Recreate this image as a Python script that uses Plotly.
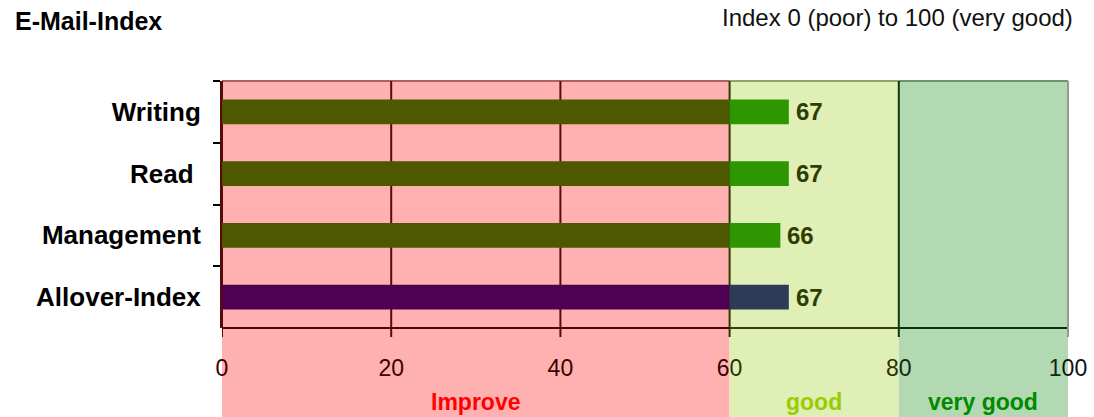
import plotly.graph_objects as go

# Index scores per area
categories = ["Writing", "Read\u00a0", "Management", "Allover-Index"]
scores = [67, 67, 66, 67]

# Rating zones on the 0-100 scale
zone_names = ["Improve", "good", "very good"]
zone_starts = [0, 60, 80]
zone_ends = [60, 80, 100]
zone_fill = ["#FFB0B0", "#E0EFB5", "#B2D9B2"]
zone_text = ["#FF0000", "#99CC00", "#008A00"]
zone_edge = ["#A86464", "#94A468", "#6A946A"]

tick_vals = [0, 20, 40, 60, 80, 100]
tick_text = [
    '<span style="color:#3d0000">0</span>',
    '<span style="color:#3d0000">20</span>',
    '<span style="color:#3d0000">40</span>',
    '<span style="color:#3d0000">6</span><span style="color:#2a3300">0</span>',
    '<span style="color:#2a3300">8</span><span style="color:#0f2a0f">0</span>',
    '<span style="color:#0f2a0f">1</span><span style="color:#111">00</span>',
]
grid_colors = ["#5A0A0A", "#5A0A0A", "#5A0A0A", "#2E3A00", "#0A3A0A", "#333333"]

threshold = 60
base_colors = ["#4E5800", "#4E5800", "#4E5800", "#4E0052"]
top_colors = ["#2E9600", "#2E9600", "#2E9600", "#2D3B57"]

FONT = "Liberation Sans, Arial, sans-serif"
M_L, M_R, M_T, M_B = 222, 26, 81, 89
PLOT_W = 1094 - M_L - M_R
plot_h = 417 - M_T - M_B

fig = go.Figure()
fig.add_trace(go.Bar(
    y=categories, x=[min(s, threshold) for s in scores], orientation="h",
    marker=dict(color=base_colors, line=dict(width=0)),
    hoverinfo="skip", showlegend=False,
))
fig.add_trace(go.Bar(
    y=categories, x=[s - threshold for s in scores], base=threshold, orientation="h",
    marker=dict(color=top_colors, line=dict(width=0)),
    hoverinfo="skip", showlegend=False,
))

shapes = []
for x0, x1, c in zip(zone_starts, zone_ends, zone_fill):
    shapes.append(dict(type="rect", xref="x", yref="paper", x0=x0, x1=x1,
                       y0=-0.45, y1=1, fillcolor=c, line=dict(width=0), layer="below"))
# top frame, tinted per zone
for x0, x1, c in zip(zone_starts, zone_ends, zone_edge):
    shapes.append(dict(type="line", xref="x", yref="paper", x0=x0, x1=x1,
                       y0=1, y1=1, line=dict(color=c, width=2), layer="between"))
# vertical grid lines that run through the axis as ticks
for v, c in zip(tick_vals, grid_colors):
    shapes.append(dict(type="line", xref="x", yref="paper", x0=v, x1=v,
                       y0=-9 / plot_h, y1=1, line=dict(color=c, width=2), layer="between"))
# bottom axis line, tinted per zone
for x0, x1, c in zip(zone_starts, zone_ends, ["#5A0000", "#3A4000", "#0A300A"]):
    shapes.append(dict(type="line", xref="x", yref="paper", x0=x0, x1=x1,
                       y0=0, y1=0, line=dict(color=c, width=2), layer="between"))
# right frame
shapes.append(dict(type="line", xref="paper", yref="paper", x0=1, x1=1, y0=-9 / plot_h, y1=1,
                   line=dict(color="#999999", width=2), layer="above"))

annotations = []
# value labels at the bar ends
for cat, s in zip(categories, scores):
    annotations.append(dict(x=s, y=cat, xref="x", yref="y", text=f"<b>{s}</b>",
                            showarrow=False, xanchor="left", yanchor="middle", xshift=5,
                            font=dict(family=FONT, size=24, color="#2F3D00")))
# zone captions below the axis
for name, x0, x1, c in zip(zone_names, zone_starts, zone_ends, zone_text):
    annotations.append(dict(x=(x0 + x1) / 2, y=(M_T + plot_h - 402) / plot_h, xref="x", yref="paper",
                            text=f"<b>{name}</b>", showarrow=False, yanchor="middle",
                            font=dict(family=FONT, size=23, color=c)))
annotations.append(dict(x=(13 - M_L) / PLOT_W, y=1 + (M_T - 21) / plot_h, xref="paper", yref="paper",
                        xanchor="left", yanchor="middle", showarrow=False,
                        text="<b>E-Mail-Index</b>", font=dict(family=FONT, size=25, color="#000")))
annotations.append(dict(x=(1075 - M_L) / PLOT_W, y=1 + (M_T - 17) / plot_h, xref="paper", yref="paper",
                        xanchor="right", yanchor="middle", showarrow=False,
                        text="Index 0 (poor) to 100 (very good)",
                        font=dict(family=FONT, size=24, color="#111")))

fig.update_layout(
    width=1094, height=417,
    margin=dict(l=M_L, r=M_R, t=M_T, b=M_B, autoexpand=False),
    paper_bgcolor="white", plot_bgcolor="rgba(0,0,0,0)",
    barmode="overlay", bargap=0.6,
    shapes=shapes,
    annotations=annotations,
    xaxis=dict(range=[0, 100], tickvals=tick_vals, ticktext=tick_text,
               showgrid=False, zeroline=False, showline=False, ticks="",
               ticklabelstandoff=24, automargin=False, ticklabeloverflow="allow",
               tickfont=dict(family=FONT, size=23, color="#3d0000"), fixedrange=True),
    yaxis=dict(autorange="reversed", showgrid=False, zeroline=False,
               showline=True, linecolor="#5A0A0A", linewidth=2,
               ticks="outside", tickson="boundaries", ticklen=7, tickcolor="#000", tickwidth=2,
               ticklabelstandoff=14, automargin=False,
               tickfont=dict(family=FONT, size=26, color="#000", weight="bold"), fixedrange=True),
)

fig.write_html("out.html")
